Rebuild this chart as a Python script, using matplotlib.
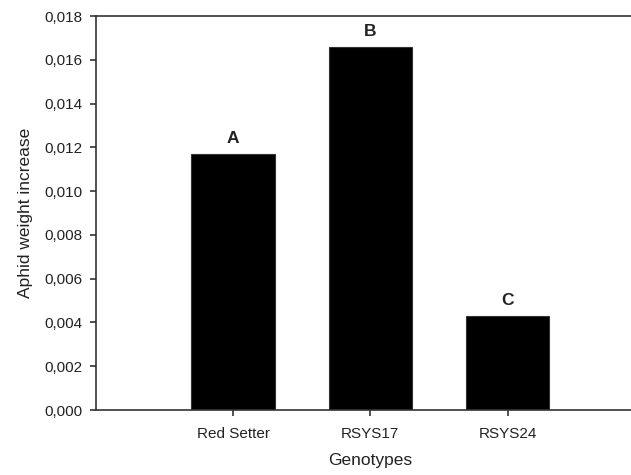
import matplotlib.pyplot as plt
from matplotlib.ticker import FuncFormatter

genotypes = ['Red Setter', 'RSYS17', 'RSYS24']
weight_increase = [0.0117, 0.01658, 0.00429]
letters = ['A', 'B', 'C']
y_ticks = [0.000, 0.002, 0.004, 0.006, 0.008, 0.010, 0.012, 0.014, 0.016, 0.018]

plt.rcParams['font.family'] = ['Liberation Sans', 'DejaVu Sans']
text_col = '#222222'

fig = plt.figure(figsize=(6.31, 4.75), dpi=100)
ax = fig.add_axes([96 / 631, 1 - 410 / 475, 1 - 96 / 631, 394 / 475])

positions = [1, 2, 3]
ax.bar(positions, weight_increase, width=0.61, color='black', edgecolor='#333333', linewidth=0.8)
for x, v, lab in zip(positions, weight_increase, letters):
    ax.text(x, v + 0.00035, lab, ha='center', va='bottom', fontsize=12.5, fontweight='bold', color=text_col)

ax.set_xlim(0, 3.9)
ax.set_ylim(0, 0.018)
ax.set_xticks(positions)
ax.set_xticklabels(genotypes)
ax.set_yticks(y_ticks)
ax.yaxis.set_major_formatter(FuncFormatter(lambda v, p: ('%.3f' % v).replace('.', ',')))

for side in ['left', 'bottom', 'top']:
    ax.spines[side].set_linewidth(1.2)
    ax.spines[side].set_color('#333333')
ax.spines['right'].set_visible(False)

ax.tick_params(axis='both', direction='out', length=4, width=1.2, color='#333333',
               labelsize=11, labelcolor=text_col)
ax.tick_params(axis='y', pad=6)
ax.tick_params(axis='x', pad=8)

ax.set_xlabel('Genotypes', fontsize=12.5, color=text_col)
ax.set_ylabel('Aphid weight increase', fontsize=12.5, color=text_col, labelpad=8)
ax.xaxis.set_label_coords((370 - 96) / 535, -43 / 394)

fig.savefig('out.png', dpi=100)
